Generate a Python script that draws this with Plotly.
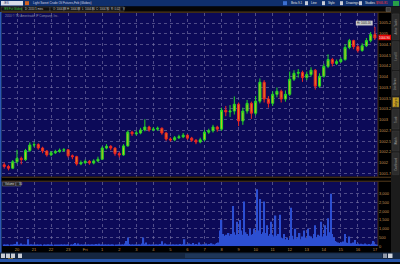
import plotly.graph_objects as go

# ---------------- data ----------------
hour_labels = ["20", "21", "22", "23", "Fri", "1", "2", "3", "4", "5", "6", "7",
               "8", "9", "10", "11", "12", "13", "14", "15", "16", "17"]

opens = [1001.95, 1001.91, 1001.87, 1002.02, 1002.10, 1002.07, 1002.28, 1002.41, 1002.42, 1002.34,
         1002.27, 1002.18, 1002.23, 1002.26, 1002.29, 1002.30, 1002.16, 1002.14, 1001.97, 1002.00,
         1002.03, 1001.99, 1002.04, 1002.08, 1002.34, 1002.38, 1002.34, 1002.21, 1002.18, 1002.39,
         1002.71, 1002.67, 1002.69, 1002.76, 1002.83, 1002.76, 1002.78, 1002.80, 1002.69, 1002.55,
         1002.53, 1002.58, 1002.60, 1002.64, 1002.57, 1002.52, 1002.48, 1002.53, 1002.71, 1002.74,
         1002.83, 1002.78, 1003.22, 1003.18, 1003.20, 1003.36, 1002.97, 1003.20, 1003.38, 1003.15,
         1003.43, 1003.87, 1003.48, 1003.38, 1003.59, 1003.66, 1003.48, 1003.59, 1003.94, 1004.08,
         1004.10, 1003.98, 1004.05, 1004.15, 1003.78, 1004.01, 1004.24, 1004.40, 1004.31, 1004.35,
         1004.40, 1004.68, 1004.84, 1004.70, 1004.61, 1004.72, 1004.84, 1004.98]

highs = [1002.00, 1001.95, 1002.06, 1002.30, 1002.14, 1002.32, 1002.47, 1002.48, 1002.45, 1002.37,
         1002.29, 1002.27, 1002.30, 1002.33, 1002.34, 1002.32, 1002.19, 1002.16, 1002.05, 1002.07,
         1002.06, 1002.08, 1002.14, 1002.38, 1002.43, 1002.41, 1002.36, 1002.25, 1002.43, 1002.75,
         1002.74, 1002.74, 1002.81, 1003.01, 1002.86, 1002.83, 1002.84, 1002.82, 1002.71, 1002.59,
         1002.62, 1002.65, 1002.69, 1002.66, 1002.60, 1002.55, 1002.58, 1002.76, 1002.79, 1002.88,
         1002.86, 1003.28, 1003.32, 1003.34, 1003.54, 1003.40, 1003.28, 1003.46, 1003.42, 1003.55,
         1003.96, 1003.92, 1003.55, 1003.66, 1003.75, 1003.70, 1003.68, 1004.12, 1004.15, 1004.18,
         1004.14, 1004.12, 1004.22, 1004.18, 1004.08, 1004.30, 1004.52, 1004.44, 1004.40, 1004.45,
         1004.76, 1004.88, 1004.86, 1004.73, 1004.78, 1004.90, 1005.04, 1005.16]

lows = [1001.86, 1001.82, 1001.85, 1001.98, 1001.96, 1002.04, 1002.25, 1002.36, 1002.30, 1002.22,
        1002.14, 1002.15, 1002.20, 1002.23, 1002.25, 1002.12, 1002.08, 1001.93, 1001.94, 1001.97,
        1001.95, 1001.96, 1002.01, 1002.06, 1002.31, 1002.29, 1002.16, 1002.12, 1002.16, 1002.37,
        1002.62, 1002.63, 1002.66, 1002.73, 1002.72, 1002.73, 1002.74, 1002.65, 1002.51, 1002.49,
        1002.50, 1002.55, 1002.57, 1002.53, 1002.48, 1002.43, 1002.45, 1002.50, 1002.67, 1002.70,
        1002.72, 1002.74, 1003.08, 1003.06, 1003.12, 1002.85, 1002.88, 1003.14, 1003.02, 1003.10,
        1003.38, 1003.40, 1003.28, 1003.32, 1003.52, 1003.40, 1003.42, 1003.55, 1003.90, 1003.98,
        1003.88, 1003.92, 1004.00, 1003.70, 1003.74, 1003.98, 1004.20, 1004.24, 1004.27, 1004.32,
        1004.37, 1004.64, 1004.64, 1004.56, 1004.58, 1004.69, 1004.80, 1004.86]

closes = [1001.91, 1001.87, 1002.02, 1002.10, 1002.07, 1002.28, 1002.41, 1002.42, 1002.34, 1002.27,
          1002.18, 1002.23, 1002.26, 1002.29, 1002.30, 1002.16, 1002.14, 1001.97, 1002.00, 1002.03,
          1001.99, 1002.04, 1002.08, 1002.34, 1002.38, 1002.34, 1002.21, 1002.18, 1002.39, 1002.71,
          1002.67, 1002.69, 1002.76, 1002.83, 1002.76, 1002.78, 1002.80, 1002.69, 1002.55, 1002.53,
          1002.58, 1002.60, 1002.64, 1002.57, 1002.52, 1002.48, 1002.53, 1002.71, 1002.74, 1002.83,
          1002.78, 1003.22, 1003.18, 1003.20, 1003.36, 1002.97, 1003.20, 1003.38, 1003.15, 1003.43,
          1003.87, 1003.48, 1003.38, 1003.59, 1003.66, 1003.48, 1003.59, 1003.94, 1004.08, 1004.10,
          1003.98, 1004.05, 1004.15, 1003.78, 1004.01, 1004.24, 1004.40, 1004.31, 1004.35, 1004.40,
          1004.68, 1004.84, 1004.70, 1004.61, 1004.72, 1004.84, 1004.98, 1004.90]

volumes = [
    40, 30, 60, 50, 20, 40, 80, 60, 120, 250, 90, 60,
    150, 70, 40, 60, 90, 400, 60, 50, 30, 70, 40, 60,
    50, 30, 40, 20, 60, 40, 30, 50, 70, 40, 30, 20,
    30, 50, 20, 40, 30, 80, 60, 40, 30, 50, 20, 40,
    60, 120, 180, 90, 150, 60, 40, 30, 50, 40, 30, 60,
    40, 30, 50, 70, 40, 120, 90, 140, 60, 50, 40, 30,
    50, 40, 30, 60, 40, 30, 20, 50, 40, 80, 60, 40,
    70, 150, 300, 500, 120, 90, 60, 80, 50, 40, 60, 70,
    90, 150, 500, 130, 200, 80, 60, 40, 50, 70, 40, 30,
    60, 90, 120, 280, 80, 150, 70, 50, 40, 60, 30, 50,
    70, 60, 90, 50, 120, 80, 100, 400, 90, 60, 150, 80,
    100, 180, 60, 120, 90, 200, 70, 60, 110, 80, 150, 90,
    120, 80, 160, 100, 70, 130, 180, 200,
    900, 1500, 700, 600, 650, 550, 750, 600, 700, 2300,
    800, 650, 1400, 700, 1500, 900, 650, 2550, 800, 700,
    600, 1000, 650, 700, 1000, 800, 3250, 900, 2700, 700,
    800, 2550, 750, 1200, 600, 700, 1400, 650, 550, 1750,
    600, 700, 1800, 500, 450, 700, 400, 500, 350, 450,
    2200, 600, 400, 1000, 450, 500, 750, 400, 550, 900,
    500, 450, 1000, 600, 550, 450, 700, 1200, 500, 650,
    600, 1400, 550, 700, 1200, 600, 1600, 800, 3000, 700,
    500,
    300, 250, 200, 180, 220, 150, 260, 700, 200, 180,
    550, 160, 140, 200, 350, 120, 150, 100, 130, 90,
    110, 150, 100, 80, 120, 90, 140, 300, 110, 90, 80]

price_ticks = [1001.75, 1002.0, 1002.25, 1002.5, 1002.75, 1003.0, 1003.25, 1003.5,
               1003.75, 1004.0, 1004.25, 1004.5, 1004.75, 1005.0, 1005.25]
volume_ticks = [0, 500, 1000, 1500, 2000, 2500, 3000]
volume_tick_text = ["0", "500", "1,000", "1,500", "2,000", "2,500", "3,000"]
last_price = 1004.90
session_high = 1005.16

# ---------------- geometry helpers ----------------
W, H = 400, 264
def px(x): return x / W
def py(y): return 1 - y / H

bar_hours = [-0.75 + 0.25 * i for i in range(len(closes))]
vol_hours = [-0.75 + i / 12 for i in range(len(volumes))]

NAVY = "#0c0a58"
GRID = "rgba(125,120,170,0.6)"
TAN = "#c39452"
FONT = "Liberation Sans"

fig = go.Figure()
fig.add_trace(go.Candlestick(
    x=bar_hours, open=opens, high=highs, low=lows, close=closes,
    xaxis="x", yaxis="y",
    increasing=dict(line=dict(color="#22d428", width=1), fillcolor="#b7c81c"),
    decreasing=dict(line=dict(color="#ec2424", width=1), fillcolor="#e0801c"),
    whiskerwidth=0, showlegend=False, hoverinfo="skip"))
fig.add_trace(go.Bar(
    x=vol_hours, y=volumes, xaxis="x2", yaxis="y2", width=1 / 12,
    marker=dict(color="#2c4fd2", line=dict(width=0)), showlegend=False, hoverinfo="skip"))

xr = [-0.88, 21.18]
xdom = [px(2), px(378)]
common_x = dict(range=xr, domain=xdom, tickvals=list(range(len(hour_labels))),
                showgrid=True, gridcolor=GRID, griddash="dot", gridwidth=1,
                zeroline=False, showline=False, ticks="", fixedrange=True)
fig.update_layout(
    width=W, height=H, margin=dict(l=0, r=0, t=0, b=0),
    paper_bgcolor="#000000", plot_bgcolor=NAVY, showlegend=False,
    font=dict(family=FONT, size=4, color=TAN),
    xaxis=dict(**common_x, anchor="y", showticklabels=False, rangeslider=dict(visible=False)),
    xaxis2=dict(**common_x, anchor="y2", ticktext=hour_labels, showticklabels=True,
                tickfont=dict(size=4, color=TAN, family=FONT)),
    yaxis=dict(domain=[py(178), py(13)], range=[1001.674, 1005.485], side="right", anchor="x",
               tickvals=price_ticks, ticktext=[f"{v:g}" for v in price_ticks],
               tickfont=dict(size=4, color=TAN, family=FONT), ticks="",
               showgrid=True, gridcolor=GRID, griddash="dot", zeroline=False, fixedrange=True),
    yaxis2=dict(domain=[py(248), py(183)], range=[0, 3693], side="right", anchor="x2",
                tickvals=volume_ticks, ticktext=volume_tick_text,
                tickfont=dict(size=4, color=TAN, family=FONT), ticks="",
                showgrid=True, gridcolor=GRID, griddash="dot", zeroline=False, fixedrange=True),
)

shapes = []
anns = []
def rect(x0, y0, x1, y1, fill, line=None, lw=0.6):
    shapes.append(dict(type="rect", xref="paper", yref="paper",
                       x0=px(x0), x1=px(x1), y0=py(y1), y1=py(y0), fillcolor=fill,
                       line=dict(color=line or fill, width=lw if line else 0), layer="above"))
def hline(x0, x1, y, color, w=1):
    shapes.append(dict(type="line", xref="paper", yref="paper", x0=px(x0), x1=px(x1),
                       y0=py(y), y1=py(y), line=dict(color=color, width=w), layer="above"))
def vline(x, y0, y1, color, w=1, dash=None):
    shapes.append(dict(type="line", xref="paper", yref="paper", x0=px(x), x1=px(x),
                       y0=py(y0), y1=py(y1), line=dict(color=color, width=w, dash=dash), layer="above"))
def text(x, y, s, size=3.2, color="#d0d0d0", xanchor="left", angle=0):
    anns.append(dict(x=px(x), y=py(y), xref="paper", yref="paper", text=s, showarrow=False,
                     xanchor=xanchor, yanchor="middle", textangle=angle,
                     font=dict(size=size, color=color, family=FONT)))

# top toolbar
rect(0, 0, 400, 6.5, "#0f2f6c")
rect(1, 1, 23, 5.5, "#d8dce8")
text(2, 3.3, "/ES", 3, "#1a2a60")
rect(25, 1.2, 29, 5.2, "#d06020")
text(31, 3.3, "Light Sweet Crude Oil Futures,Feb (Globex)", 3, "#d8d8e8")
rect(283, 1.2, 287, 5.2, "#3b6fd0")
text(289, 3.3, "Beta 9.1", 3, "#e0e0e0")
for bx, lab, w in [(305, "Line", 14), (322, "Style", 14), (340, "Drawings", 17), (359, "Studies", 14)]:
    rect(bx, 1.2, bx + 3, 5.2, "#c8ccd8")
    text(bx + 4, 3.3, lab, 3, "#e8e8e8")
text(374, 3.3, "$946.81", 3.2, "#ff3030")
rect(393, 1, 399, 6, "#28a048")
# status row
rect(0, 6.5, 400, 11.8, "#050505")
cells = [(1, 22, "/ES:Fut Globex", "#3ad040"), (22, 50, "D: 2010 5 mins", "#d0d0d0"),
         (50, 64, "O: 1004.88", "#d0d0d0"), (64, 79, "H: 1004.88", "#d0d0d0"),
         (79, 93, "L: 1004.86", "#d0d0d0"), (93, 108, "C: 1004.90", "#d0d0d0"),
         (108, 120, "R: 0.02", "#d0d0d0"), (120, 124, "V", "#d0d0d0")]
for x0, x1, s, c in cells:
    rect(x0, 7, x1, 11.3, "#101010", "#5a5a5a", 0.5)
    text(x0 + 0.8, 9.2, s, 2.7, c)
hline(0, 391, 12.2, "#6a4a22", 1)

# left border
rect(0, 12, 1.6, 255, "#2a58b4")
# price-axis column and right tab panel
vline(378, 12.5, 248, "#5a3e1c", 0.8)
rect(391, 6.5, 400, 255, "#1c1c1c")
tabs = [(14, 40, "Active Trader"), (42, 70, "Level II"), (72, 96, "Live News"),
        (98, 108, "Gadgets"), (110, 130, "Trade"), (132, 152, "Watch"), (154, 176, "Dashboard")]
for y0, y1, lab in tabs:
    fill = "#c8a020" if lab == "Gadgets" else "#2c2c2c"
    rect(392.5, y0, 399, y1, fill, "#444444", 0.4)
    text(395.8, (y0 + y1) / 2, lab, 2.6, "#202020" if lab == "Gadgets" else "#9a9a9a",
         xanchor="center", angle=-90)
rect(386, 7.5, 390.5, 11.5, "#3a3a3a", "#888888", 0.4)

# separator between panels
rect(1.6, 178, 391, 183, "#000000")
hline(1.6, 391, 178.6, "#6a4a22", 0.8)
hline(1.6, 391, 182.6, "#6a4a22", 0.8)
# volume header
rect(2.5, 183.5, 15.5, 187.5, "#262626", "#8a8a8a", 0.4)
text(3.3, 185.6, "Volume", 2.8, "#d8d8d8")
rect(16, 183.5, 21, 187.5, "#262626", "#8a8a8a", 0.4)
text(16.8, 185.6, "30", 2.8, "#d8d8d8")

# copyright text
text(3, 15.8, "2010 \u00a9 TD Ameritrade IP Company, Inc.", 3, "#8c8ca8")
# session-high bubble
rect(356, 21, 372.5, 25.5, "#c8c8c8", "#e0e0e0", 0.3)
text(364.2, 23.3, f"Hi: {session_high:.2f}", 2.7, "#202020", xanchor="center")
# last price marker
rect(378.5, 35, 391, 40.5, "#e00000")
text(384.7, 37.8, f"{last_price:.2f}", 3, "#ffffff", xanchor="center")

# bottom strip
rect(0, 254.5, 400, 261, "#152640")
for bx in [1, 6, 11, 18]:
    rect(bx, 255.5, bx + 4, 260, "#c8ccd4")
rect(8, 260.5, 13, 263, "#d8a020")
rect(185, 255.5, 382, 260, "#1e3658")
rect(383, 255.5, 387, 260, "#9098a8")
rect(388, 255.5, 392.5, 260, "#d0d4dc")
rect(0, 261, 400, 264, "#2654a8")

fig.update_layout(shapes=shapes, annotations=anns)
fig.write_html("out.html")
